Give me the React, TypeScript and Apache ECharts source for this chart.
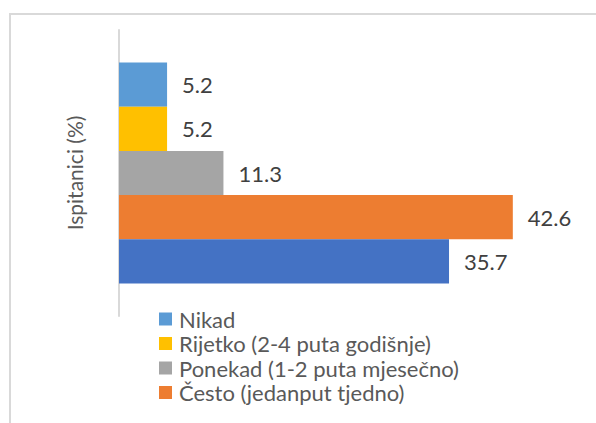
import React, { useEffect, useRef } from "react";
import * as echarts from "echarts";

const categories = ["Ispitanici"];
const seriesNames = [
  "Nikad",
  "Rijetko (2-4 puta godišnje)",
  "Ponekad (1-2 puta mjesečno)",
  "Često (jedanput tjedno)",
  "Svaki dan",
];
const seriesValues = [5.2, 5.2, 11.3, 42.6, 35.7];
const seriesColors = ["#5B9BD5", "#FFC000", "#A5A5A5", "#ED7D31", "#4472C4"];
const legendNames = seriesNames.slice(0, 4);

const FONT = "Lato";

export default function App() {
  const ref = useRef<HTMLDivElement>(null);
  useEffect(() => {
    document.body.style.margin = "0";
    const chart = echarts.init(ref.current!, null, { renderer: "svg" });
    chart.setOption({
      animation: false,
      backgroundColor: "#ffffff",
      textStyle: { fontFamily: FONT },
      grid: { left: 119, top: 30, width: 416, height: 286, containLabel: false },
      xAxis: {
        type: "value",
        min: 0,
        max: 45,
        show: false,
      },
      yAxis: {
        type: "category",
        data: categories,
        inverse: true,
        name: "Ispitanici (%)",
        nameLocation: "middle",
        nameGap: 34,
        nameRotate: 90,
        nameTextStyle: { color: "#595959", fontSize: 21, fontFamily: FONT },
        axisLine: { show: true, lineStyle: { color: "#d9d9d9", width: 2 } },
        axisTick: { show: false },
        axisLabel: { show: false },
      },
      legend: {
        orient: "vertical",
        left: 154,
        top: 303,
        data: legendNames,
        itemWidth: 13,
        itemHeight: 13,
        itemGap: 2.5,
        icon: "rect",
        textStyle: { color: "#595959", fontSize: 22, fontFamily: FONT, lineHeight: 22, padding: [0, 0, 0, 2] },
      },
      graphic: [
        {
          type: "rect",
          shape: { x: 10, y: 14, width: 620, height: 440 },
          style: { fill: "none", stroke: "#d9d9d9", lineWidth: 2 },
          silent: true,
          z: -1,
        },
      ],
      series: seriesNames.map((name, i) => ({
        type: "bar",
        name,
        data: [seriesValues[i]],
        barGap: "0%",
        barCategoryGap: "22.7%",
        itemStyle: { color: seriesColors[i] },
        label: {
          show: true,
          position: "right",
          distance: 15,
          color: "#404040",
          fontSize: 22,
          fontFamily: FONT,
          formatter: (p: any) => p.value.toFixed(1),
        },
      })),
    });
    return () => chart.dispose();
  }, []);
  return <div ref={ref} style={{ width: 596, height: 423 }} />;
}
